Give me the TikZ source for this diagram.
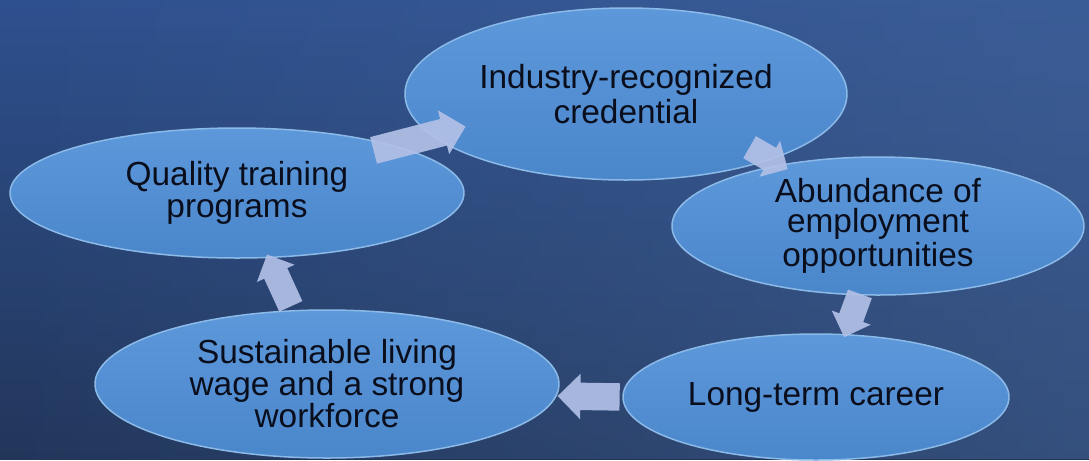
\documentclass[tikz,border=0pt]{standalone}
\usepackage{fontspec}
\setmainfont{Liberation Sans}
\usetikzlibrary{shapes.geometric,shapes.arrows,fadings}
\definecolor{bgtop}{RGB}{46,80,142}
\definecolor{bgbot}{RGB}{34,54,90}
\definecolor{bgright}{RGB}{72,106,160}
\definecolor{bubtop}{RGB}{92,152,218}
\definecolor{bubbot}{RGB}{74,134,202}
\definecolor{bubline}{RGB}{140,186,232}
\definecolor{arrowcol}{RGB}{178,192,230}
\definecolor{txtcol}{RGB}{10,14,28}
\begin{document}
\begin{tikzpicture}[x=0.1mm, y=-0.1mm, line join=round,
	bubble/.style={ellipse, inner sep=0pt, outer sep=0pt, align=center, text=txtcol,
		top color=bubtop, bottom color=bubbot, draw=bubline, line width=0.15mm,
		font=\fontsize{9.5}{9.1}\selectfont},
	cyclearrow/.style={single arrow, draw=none, fill=arrowcol, fill opacity=0.92,
		inner xsep=0pt, inner ysep=1.3mm, single arrow head extend=0.9mm,
		sloped, allow upside down},
	smallarrow/.style={cyclearrow, inner ysep=1.2mm, single arrow head extend=0.8mm}]
		\def\W{1089} \def\H{459} % pixel size
		\fill[top color=bgtop, bottom color=bgbot] (0,0) rectangle (\W,\H);
		\fill[bgright, path fading=west, opacity=0.5] (0,0) rectangle (\W,\H);
		\node[bubble, minimum width=44.2mm, minimum height=17.2mm, font=\fontsize{9.5}{10}\selectfont] (cred) at (626,94) {Industry-recognized\\credential};
		\node[bubble, minimum width=45.4mm, minimum height=13mm] (quality) at (237,193) {Quality training\\programs};
		\node[bubble, minimum width=41.2mm, minimum height=13.8mm, font=\fontsize{9.5}{8.5}\selectfont] (abund) at (878,226) {Abundance of\\employment\\opportunities};
		\node[bubble, minimum width=38.6mm, minimum height=12.6mm] (career) at (816,397) {Long-term career};
		\node[bubble, minimum width=46.4mm, minimum height=14.8mm] (wage) at (327,384) {Sustainable living\\wage and a strong\\workforce};
		% arrows of the cycle
		\path (quality.17) -- (cred.192) node[cyclearrow, pos=0.52, minimum height=9.5mm] {};
		\path (cred.143) -- (abund.332) node[smallarrow, pos=0.515, minimum height=4.4mm] {};
		\path (abund.255) -- (career.65) node[smallarrow, pos=0.37, minimum height=4.6mm] {};
		\path (career.180) -- (wage.357) node[cyclearrow, pos=0.41, minimum height=6.2mm] {};
		\path (wage.115) -- (quality.296) node[smallarrow, pos=0.46, minimum height=5.7mm] {};
\end{tikzpicture}
\end{document}
